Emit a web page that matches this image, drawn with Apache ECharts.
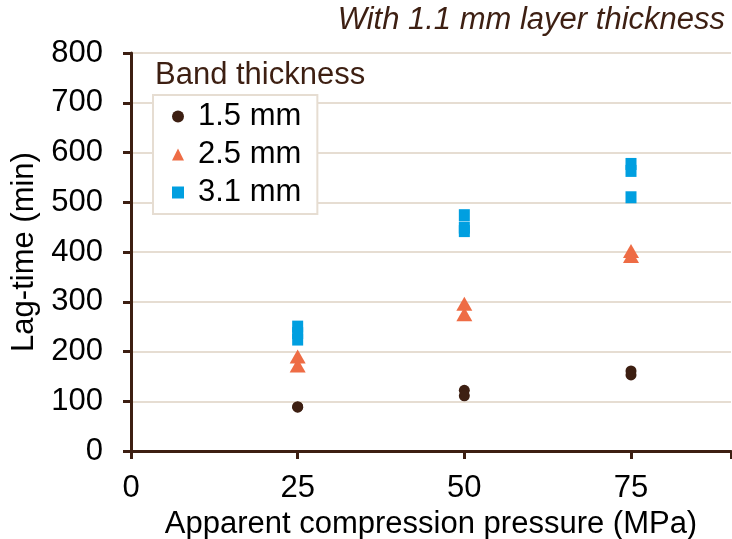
<!DOCTYPE html>
<html>
<head lang="en">
    <meta charset="UTF-8">
    <title></title>
    <script src="https://cdn.jsdelivr.net/npm/echarts@6/dist/echarts.min.js"></script>
    <style>
        html, body {margin:0;padding:0;background:#fff;}
    </style>
</head>
<body>
<div id="container" style="height:539px;width:732px;"></div>
<script>
    // pressure (MPa) / lag-time (min) pairs
    var xTicks = [0, 25, 50, 75];
    var band15x = [25, 25, 50, 50, 75, 75];
    var band15y = [88, 89, 122, 111, 161, 153];
    var band25x = [25, 25, 50, 50, 75, 75];
    var band25y = [190, 172, 296, 275, 402, 392];
    var band31x = [25, 25, 25, 50, 50, 50, 75, 75, 75];
    var band31y = [250, 237, 224, 474, 449, 442, 577, 563, 510];

    function pairs(xs, ys) {
        var out = [];
        for (var i = 0; i < xs.length; i++) {
            out.push([xs[i], ys[i]]);
        }
        return out;
    }

    var font = 'Liberation Sans, Arial, sans-serif';
    var brown = '#3d1f12';
    var fs = 31;

    var myChart = echarts.init(document.getElementById('container'));
    var option = {
        animation: false,
        textStyle: {fontFamily: font},
        title: [{
            text: 'With 1.1 mm layer thickness',
            right: 2,
            top: 0,
            textStyle: {fontFamily: font, fontStyle: 'italic', fontWeight: 'normal', fontSize: fs, color: brown}
        }, {
            text: 'Band thickness',
            left: 150,
            top: 55,
            textStyle: {fontFamily: font, fontWeight: 'normal', fontSize: fs, color: brown}
        }],
        legend: {
            orient: 'vertical',
            left: 153,
            top: 95,
            padding: [6, 16, 6, 19],
            itemGap: 7,
            itemWidth: 12,
            itemHeight: 12,
            backgroundColor: '#fff',
            borderColor: '#e6ddd2',
            borderWidth: 2,
            textStyle: {fontFamily: font, fontSize: fs, color: '#000', lineHeight: 31, padding: [0, 0, 0, 9]},
            data: ['1.5 mm', '2.5 mm', '3.1 mm']
        },
        grid: {left: 131, right: 1, top: 53, bottom: 88, outerBoundsMode: 'none', containLabel: false},
        xAxis: {
            type: 'value',
            min: 0,
            max: 90,
            interval: 25,
            name: 'Apparent compression pressure (MPa)',
            nameLocation: 'middle',
            nameGap: 52,
            nameTextStyle: {fontFamily: font, fontSize: fs, color: '#000'},
            axisLine: {show: true, lineStyle: {color: brown, width: 3}},
            axisTick: {show: true, length: 8, lineStyle: {color: brown, width: 3}},
            axisLabel: {
                fontFamily: font, fontSize: fs, color: '#000', margin: 22,
                formatter: function (v) { return xTicks.indexOf(v) >= 0 ? String(v) : ''; }
            },
            splitLine: {show: false}
        },
        yAxis: {
            type: 'value',
            min: 0,
            max: 800,
            interval: 100,
            name: 'Lag-time (min)',
            nameLocation: 'middle',
            nameGap: 90,
            nameTextStyle: {fontFamily: font, fontSize: fs, color: '#000'},
            axisLine: {show: true, lineStyle: {color: brown, width: 3}},
            axisTick: {show: true, length: 8, lineStyle: {color: brown, width: 3}},
            axisLabel: {fontFamily: font, fontSize: fs, color: '#000', margin: 28},
            splitLine: {show: true, lineStyle: {color: '#e6ddd2', width: 2}}
        },
        series: [{
            name: '1.5 mm',
            type: 'scatter',
            symbol: 'circle',
            symbolSize: 11,
            itemStyle: {color: brown, opacity: 1},
            data: pairs(band15x, band15y)
        }, {
            name: '2.5 mm',
            type: 'scatter',
            symbol: 'triangle',
            symbolSize: [16, 14],
            itemStyle: {color: '#ee6c45', opacity: 1},
            data: pairs(band25x, band25y)
        }, {
            name: '3.1 mm',
            type: 'scatter',
            symbol: 'rect',
            symbolSize: [11, 12],
            itemStyle: {color: '#009fe0', opacity: 1},
            data: pairs(band31x, band31y)
        }]
    };
    myChart.setOption(option);
</script>
</body>
</html>
